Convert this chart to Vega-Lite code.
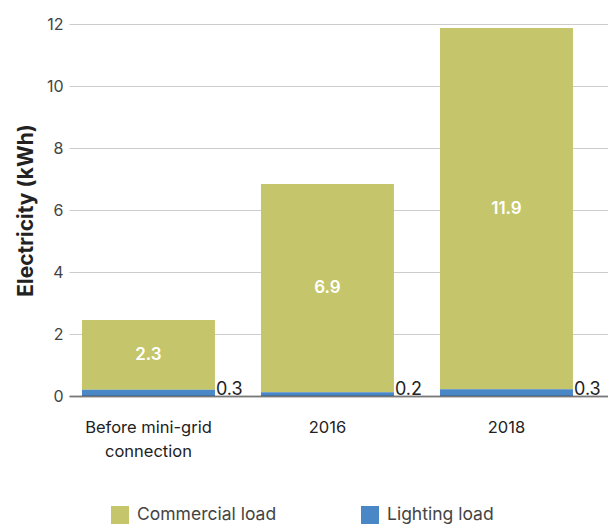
{
  "$schema": "https://vega.github.io/schema/vega-lite/v6.json",
  "width": 539,
  "height": 372,
  "autosize": {"type": "none"},
  "padding": {"left": 69, "top": 24, "right": 0, "bottom": 129},
  "config": {
    "view": {"stroke": null},
    "font": "Inter"
  },
  "data": {
    "values": [
      {"period": "Before mini-grid connection", "load": "Commercial load", "value": 2.25, "label": "2.3"},
      {"period": "Before mini-grid connection", "load": "Lighting load", "value": 0.2, "label": "0.3"},
      {"period": "2016", "load": "Commercial load", "value": 6.72, "label": "6.9"},
      {"period": "2016", "load": "Lighting load", "value": 0.12, "label": "0.2"},
      {"period": "2018", "load": "Commercial load", "value": 11.65, "label": "11.9"},
      {"period": "2018", "load": "Lighting load", "value": 0.22, "label": "0.3"}
    ]
  },
  "encoding": {
    "x": {
      "field": "period",
      "type": "nominal",
      "sort": ["Before mini-grid connection", "2016", "2018"],
      "scale": {"paddingInner": 0.257, "paddingOuter": 0.134, "align": 0.27},
      "axis": {
        "title": null,
        "labelAngle": 0,
        "ticks": false,
        "labelPadding": 31,
        "labelFontSize": 16.5,
        "labelColor": "#222222",
        "labelLineHeight": 24,
        "labelBaseline": "middle",
        "labelExpr": "datum.label == 'Before mini-grid connection' ? ['Before mini-grid', 'connection'] : datum.label",
        "domainColor": "#333333",
        "domainOpacity": 0.55,
        "domainWidth": 2,
        "zindex": 1
      }
    }
  },
  "layer": [
    {
      "mark": {"type": "bar"},
      "encoding": {
        "y": {
          "field": "value",
          "type": "quantitative",
          "stack": "zero",
          "scale": {"domain": [0, 12], "nice": false},
          "axis": {
            "title": "Electricity (kWh)",
            "titleFontSize": 21,
            "titleFontWeight": "bold",
            "titleColor": "#222222",
            "titlePadding": 10,
            "values": [0, 2, 4, 6, 8, 10, 12],
            "domain": false,
            "ticks": false,
            "labelPadding": 6,
            "labelFontSize": 16,
            "labelColor": "#444444",
            "gridColor": "#cccccc",
            "gridWidth": 1,
            "zindex": 0
          }
        },
        "color": {
          "field": "load",
          "type": "nominal",
          "scale": {"domain": ["Commercial load", "Lighting load"], "range": ["#c5c66b", "#4a87c7"]},
          "legend": {
            "title": null,
            "orient": "none",
            "direction": "horizontal",
            "legendX": 42,
            "legendY": 482,
            "padding": 0,
            "symbolType": "square",
            "symbolSize": 324,
            "symbolStrokeWidth": 0,
            "symbolOpacity": 1,
            "labelFontSize": 17.5,
            "labelColor": "#444444",
            "labelOffset": 8,
            "columnPadding": 84
          }
        },
        "order": {"field": "load", "sort": "descending"}
      }
    },
    {
      "transform": [
        {"stack": "value", "groupby": ["period"], "sort": [{"field": "load", "order": "descending"}], "as": ["v0", "v1"]},
        {"filter": "datum.load == 'Commercial load'"},
        {"fold": ["v0", "v1"], "as": ["k", "pos"]}
      ],
      "mark": {"type": "text", "color": "white", "fontSize": 17, "fontWeight": 600, "baseline": "middle"},
      "encoding": {
        "y": {"aggregate": "mean", "field": "pos", "type": "quantitative"},
        "text": {"field": "label", "type": "nominal"}
      }
    },
    {
      "transform": [{"filter": "datum.load == 'Lighting load'"}],
      "mark": {"type": "text", "color": "#222222", "fontSize": 18, "align": "left", "baseline": "alphabetic", "dx": 1, "dy": -1},
      "encoding": {
        "x": {"field": "period", "type": "nominal", "sort": ["Before mini-grid connection", "2016", "2018"], "bandPosition": 1},
        "y": {"datum": 0, "type": "quantitative"},
        "text": {"field": "label", "type": "nominal"}
      }
    }
  ]
}
